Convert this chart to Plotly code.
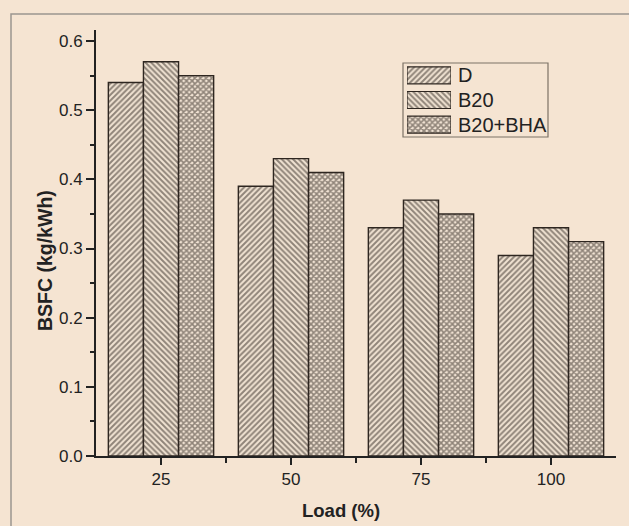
import plotly.graph_objects as go

loads = ["25", "50", "75", "100"]
d_vals = [0.54, 0.39, 0.33, 0.29]
b20_vals = [0.57, 0.43, 0.37, 0.33]
bha_vals = [0.55, 0.41, 0.35, 0.31]
series_names = ["D", "B20", "B20+BHA"]
y_ticks = [0.0, 0.1, 0.2, 0.3, 0.4, 0.5, 0.6]

BG = "#f5e4d2"
BARBG = "#f1e3d3"
INK = "#2e2620"
xpos = list(range(len(loads)))
shapes_ = ["/", "\\", "x"]
sizes_ = [4, 4, 4]
solid_ = [0.5, 0.5, 0.65]

fig = go.Figure()
for name, vals, shp, sz, so in zip(series_names, [d_vals, b20_vals, bha_vals], shapes_, sizes_, solid_):
    fig.add_trace(go.Bar(
        x=xpos, y=vals, name=name, showlegend=False,
        marker=dict(color=BARBG,
                    pattern=dict(shape=shp, fgcolor=INK, bgcolor=BARBG, size=sz, solidity=so),
                    line=dict(color=INK, width=1.4)),
    ))

# custom legend (large swatches) on an inset axis
rows = [2, 1, 0]
fig.add_trace(go.Bar(
    x=[1, 1, 1], y=rows, orientation="h", width=0.69, xaxis="x2", yaxis="y2",
    showlegend=False, hoverinfo="skip",
    marker=dict(color=BARBG,
                pattern=dict(shape=shapes_, fgcolor=INK, bgcolor=BARBG, size=sizes_, solidity=solid_),
                line=dict(color=INK, width=1.2)),
))

W, H = 629, 526
L, R, T, B = 96, 13, 30, 70
pw, ph = W - L - R, H - T - B

def px(xp):
    return (xp - L) / pw

def py(yp):
    return 1 - (yp - T) / ph

tickfont = dict(family="Liberation Sans, Arial", size=17, color="#222")
fig.update_layout(
    width=W, height=H,
    margin=dict(l=L, r=R, t=T, b=B),
    paper_bgcolor=BG, plot_bgcolor=BG,
    barmode="group", bargap=0.19, bargroupgap=0,
    showlegend=False,
    xaxis=dict(
        range=[-0.5, 3.5], tickvals=xpos, ticktext=loads,
        showline=True, linecolor="#222", linewidth=2,
        ticks="outside", ticklen=7, tickwidth=2, tickcolor="#222",
        showgrid=False, zeroline=False, tickfont=tickfont,
        minor=dict(tickvals=[0.5, 1.5, 2.5], ticks="outside", ticklen=5, tickwidth=2, tickcolor="#222"),
    ),
    yaxis=dict(
        range=[0, 0.616], tickvals=y_ticks, ticktext=[f"{v:.1f}" for v in y_ticks],
        showline=True, linecolor="#222", linewidth=2,
        ticks="outside", ticklen=8, tickwidth=2, tickcolor="#222",
        showgrid=False, zeroline=False, tickfont=tickfont,
        minor=dict(dtick=0.05, tick0=0, ticks="outside", ticklen=4, tickwidth=2, tickcolor="#222"),
    ),
    xaxis2=dict(domain=[px(407), px(451)], anchor="y2", range=[0, 1], visible=False, fixedrange=True),
    yaxis2=dict(domain=[py(137), py(63)], anchor="x2", range=[-0.5, 2.5], side="right",
                tickvals=rows, ticktext=series_names, ticks="", showline=False, showgrid=False,
                zeroline=False, ticklabelstandoff=6,
                tickfont=dict(family="Liberation Sans, Arial", size=20, color="#222")),
)

# axis titles
fig.add_annotation(text="<b>BSFC (kg/kWh)</b>", textangle=-90, xref="paper", yref="paper",
                   x=px(45), y=py(261), xanchor="center", yanchor="middle", showarrow=False,
                   font=dict(family="Liberation Sans, Arial", size=19.5, color="#222"))
fig.add_annotation(text="<b>Load (%)</b>", xref="paper", yref="paper",
                   x=px(341), y=py(510), xanchor="center", yanchor="middle", showarrow=False,
                   font=dict(family="Liberation Sans, Arial", size=18.5, color="#222"))

# legend frame
fig.add_shape(type="rect", xref="paper", yref="paper",
              x0=px(403), x1=px(548), y0=py(137), y1=py(63),
              line=dict(color="#7d7266", width=1.2), fillcolor="rgba(0,0,0,0)")

# figure frame
fig.add_shape(type="rect", xref="paper", yref="paper",
              x0=px(11), x1=px(W + 5), y0=py(H + 5), y1=py(14),
              line=dict(color="#9a9590", width=1.5), fillcolor="rgba(0,0,0,0)", layer="below")

fig.write_html("out.html")
